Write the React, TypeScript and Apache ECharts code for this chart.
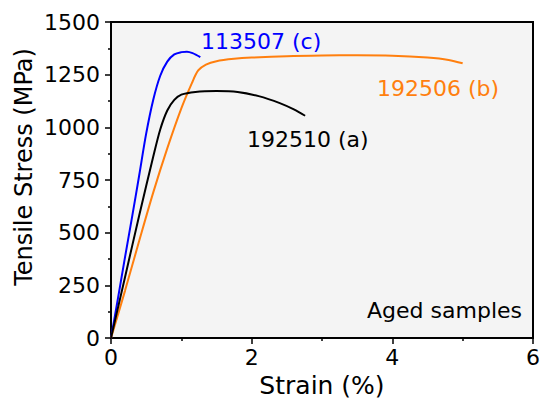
import React, { useEffect, useRef } from "react";
import * as echarts from "echarts";

const FONT = "DejaVu Sans";

// Strain (%) vs Tensile stress (MPa)
const curveC: [number, number][] = [
  [0, 0], [0.1, 190], [0.2, 385], [0.3, 575], [0.4, 770], [0.5, 970], [0.6, 1130],
  [0.7, 1245], [0.8, 1312], [0.9, 1346], [1.0, 1357], [1.08, 1359], [1.16, 1352], [1.27, 1333],
];
const curveA: [number, number][] = [
  [0, 0], [0.2, 290], [0.4, 580], [0.6, 860], [0.7, 990], [0.8, 1080], [0.9, 1130],
  [1.0, 1155], [1.2, 1168], [1.5, 1172], [1.8, 1168], [2.1, 1148], [2.4, 1115],
  [2.6, 1085], [2.76, 1055],
];
const curveB: [number, number][] = [
  [0, 0], [0.2, 225], [0.4, 460], [0.6, 690], [0.8, 900], [1.0, 1090], [1.15, 1210],
  [1.24, 1270], [1.35, 1298], [1.5, 1314], [1.75, 1325], [2.0, 1331], [2.5, 1338],
  [3.0, 1341], [3.5, 1342], [4.0, 1340], [4.5, 1331], [4.8, 1320], [5.0, 1304],
];
const seriesNames = ["192510 (a)", "192506 (b)", "113507 (c)"];
const seriesColors = ["#000000", "#ff7f0e", "#0000ff"];
const xAxisName = "Strain (%)";
const yAxisName = "Tensile Stress (MPa)";
const note = "Aged samples";

export default function App() {
  const ref = useRef<HTMLDivElement>(null);
  useEffect(() => {
    if (!ref.current) return;
    const chart = echarts.init(ref.current, null, { renderer: "svg" });
    const datasets = [curveA, curveB, curveC];
    chart.setOption({
      animation: false,
      backgroundColor: "#ffffff",
      grid: {
        left: 111, right: 9, top: 22, bottom: 63,
        outerBoundsMode: "none", containLabel: false,
        show: true, backgroundColor: "#f4f4f4", borderColor: "#000", borderWidth: 2,
      },
      xAxis: {
        type: "value", min: 0, max: 6, interval: 2,
        name: xAxisName, nameLocation: "middle", nameGap: 34,
        nameTextStyle: { fontFamily: FONT, fontSize: 25, color: "#000" },
        axisLine: { show: true, lineStyle: { color: "#000", width: 2 } },
        axisTick: { show: true, length: 6, lineStyle: { color: "#000", width: 1.5 } },
        minorTick: { show: true, splitNumber: 2, length: 3, lineStyle: { color: "#000", width: 1.5 } },
        splitLine: { show: false },
        axisLabel: { fontFamily: FONT, fontSize: 22, color: "#000", margin: 8 },
      },
      yAxis: {
        type: "value", min: 0, max: 1500, interval: 250,
        axisLine: { show: true, lineStyle: { color: "#000", width: 2 } },
        axisTick: { show: true, length: 6, lineStyle: { color: "#000", width: 1.5 } },
        minorTick: { show: true, splitNumber: 2, length: 3, lineStyle: { color: "#000", width: 1.5 } },
        splitLine: { show: false },
        axisLabel: { fontFamily: FONT, fontSize: 22, color: "#000", margin: 11, formatter: (v: number) => String(v) },
      },
      series: datasets.map((d, i) => ({
        type: "line",
        name: seriesNames[i],
        data: d,
        smooth: 0.3,
        showSymbol: false,
        lineStyle: { color: seriesColors[i], width: 2 },
        z: 3 - i,
      })),
      graphic: [
        {
          type: "text", x: 24, y: 167, rotation: Math.PI / 2,
          style: { text: yAxisName, fontFamily: FONT, fontSize: 24, fill: "#000", textAlign: "center", textVerticalAlign: "middle" },
        },
        {
          type: "text", x: 201, y: 41,
          style: { text: seriesNames[2], fontFamily: FONT, fontSize: 22, fill: seriesColors[2], textAlign: "left", textVerticalAlign: "middle" },
        },
        {
          type: "text", x: 377, y: 88,
          style: { text: seriesNames[1], fontFamily: FONT, fontSize: 22, fill: seriesColors[1], textAlign: "left", textVerticalAlign: "middle" },
        },
        {
          type: "text", x: 247, y: 139,
          style: { text: seriesNames[0], fontFamily: FONT, fontSize: 22, fill: seriesColors[0], textAlign: "left", textVerticalAlign: "middle" },
        },
        {
          type: "text", x: 522, y: 310,
          style: { text: note, fontFamily: FONT, fontSize: 22, fill: "#000", textAlign: "right", textVerticalAlign: "middle" },
        },
      ],
    });
    return () => chart.dispose();
  }, []);
  return <div ref={ref} style={{ width: 542, height: 401, position: "absolute", left: 0, top: 0 }} />;
}
